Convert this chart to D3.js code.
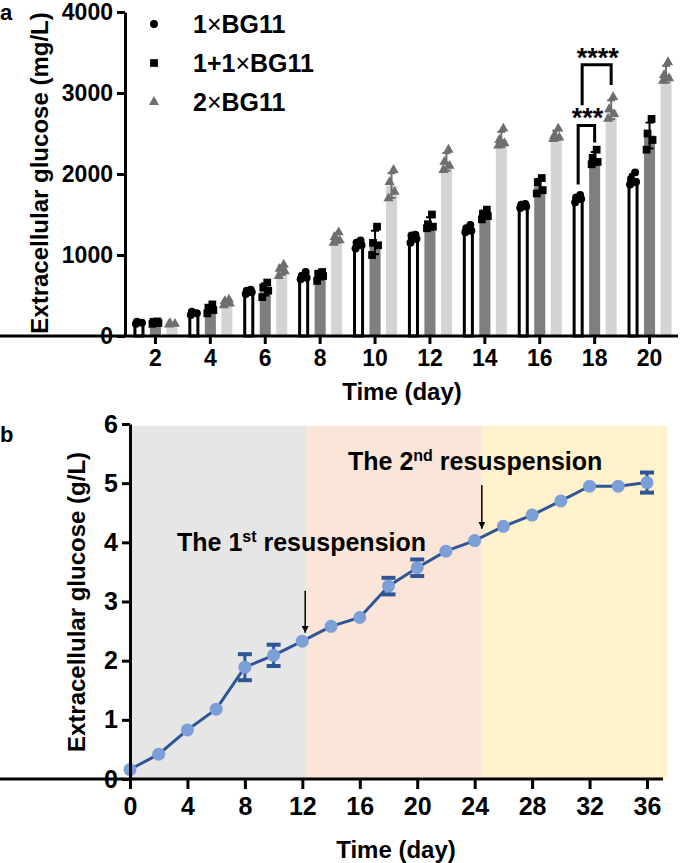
<!DOCTYPE html>
<html>
<head>
<meta charset="utf-8">
<script src="https://cdn.jsdelivr.net/npm/d3@7"></script>
<style>
  body { margin: 0; background: #fff; }
  text { font-family: Arial, 'Liberation Sans', sans-serif; font-weight: bold; fill: #000; }
</style>
</head>
<body>
<div id="chart"></div>
<script>
// panel a data: replicate glucose values (mg/L) per day
const daysA = [2, 4, 6, 8, 10, 12, 14, 16, 18, 20]
const seriesA = ['1×BG11', '1+1×BG11', '2×BG11']
const reps1x = [
  [150, 165, 175], [260, 280, 300], [520, 540, 560, 570], [700, 720, 740, 790], [1080, 1120, 1150, 1180],
  [1150, 1200, 1240, 1250], [1280, 1300, 1330, 1370], [1580, 1600, 1620, 1630], [1650, 1690, 1710, 1740], [1870, 1900, 1940, 2020]
]
const reps11x = [
  [150, 160, 175, 180], [280, 320, 350, 390], [480, 560, 600, 660], [680, 740, 770, 790], [1000, 1120, 1150, 1350],
  [1330, 1350, 1380, 1500], [1440, 1480, 1510, 1560], [1760, 1800, 1900, 1950], [2120, 2150, 2200, 2300], [2300, 2420, 2500, 2680]
]
const reps2x = [
  [140, 150, 160], [380, 400, 430, 450], [740, 800, 830, 880], [1150, 1180, 1220, 1280], [1700, 1780, 1900, 2050],
  [2050, 2100, 2150, 2300], [2350, 2380, 2420, 2560], [2430, 2450, 2470, 2560], [2680, 2740, 2800, 2950], [3150, 3180, 3220, 3380]
]
const yTicksA = [0, 1000, 2000, 3000, 4000]

// panel b data: glucose (g/L) over time
const timeB = [0, 2, 4, 6, 8, 10, 12, 14, 16, 18, 20, 22, 24, 26, 28, 30, 32, 34, 36]
const glucoseB = [0.16, 0.42, 0.83, 1.18, 1.89, 2.09, 2.33, 2.58, 2.73, 3.26, 3.57, 3.85, 4.03, 4.27, 4.46, 4.7, 4.95, 4.95, 5.01]
const errB = [0, 0, 0, 0, 0.22, 0.18, 0, 0, 0, 0.14, 0.14, 0, 0, 0, 0, 0, 0, 0, 0.17]
const yTicksB = [0, 1, 2, 3, 4, 5, 6]
const xTicksB = [0, 4, 8, 12, 16, 20, 24, 28, 32, 36]
const phaseStart = [0, 12.25, 24.5]
const phaseEnd = [12.25, 24.5, 37.4]
const phaseColors = ['#e6e6e6', '#fbe5d8', '#fff2cc']

const svg = d3.select('#chart').append('svg').attr('width', 685).attr('height', 863)

function drawPanelA() {
  const g = svg.append('g')
  const x0 = d3.scaleBand().domain(daysA).range([128, 677])
  const x1 = d3.scaleBand().domain(seriesA).range([2.7, 52.2]).paddingInner(0.33).paddingOuter(0.165)
  const y = d3.scaleLinear().domain([0, 4000]).range([336, 12])

  const repsAll = [reps1x, reps11x, reps2x]
  const fills = ['#ffffff', '#7f7f7f', '#d4d4d4']
  const markColors = ['#000', '#000', '#6e6e6e']
  const jitter = [-3, 3, -2, 2]

  repsAll.forEach((reps, si) => {
    const s = seriesA[si]
    const data = reps.map((r, i) => ({ day: daysA[i], reps: r, mean: d3.mean(r), sd: d3.deviation(r) }))
    const cx = d => x0(d.day) + x1(s) + x1.bandwidth() / 2

    g.selectAll('.bar' + si).data(data).join('rect')
      .attr('x', d => x0(d.day) + x1(s) + (si === 0 ? 1.5 : 0))
      .attr('width', x1.bandwidth() - (si === 0 ? 3 : 0))
      .attr('y', d => y(d.mean))
      .attr('height', d => y(0) - y(d.mean))
      .attr('fill', fills[si])
      .attr('stroke', si === 0 ? '#000' : 'none')
      .attr('stroke-width', 3)

    const eb = g.selectAll('.eb' + si).data(data).join('g')
    eb.append('line')
      .attr('x1', cx).attr('x2', cx)
      .attr('y1', d => y(d.mean - d.sd)).attr('y2', d => y(d.mean + d.sd))
      .attr('stroke', markColors[si]).attr('stroke-width', 2)
    ;[1, -1].forEach(sgn => {
      eb.append('line')
        .attr('x1', d => cx(d) - 4).attr('x2', d => cx(d) + 4)
        .attr('y1', d => y(d.mean + sgn * d.sd)).attr('y2', d => y(d.mean + sgn * d.sd))
        .attr('stroke', markColors[si]).attr('stroke-width', 2)
    })

    const pts = data.flatMap(d => d.reps.map((v, k) => ({ x: cx(d) + jitter[k], v })))
    const sym = [d3.symbolCircle, d3.symbolSquare, d3.symbolTriangle][si]
    const size = [50, 60, 45][si]
    g.selectAll('.pt' + si).data(pts).join('path')
      .attr('transform', d => `translate(${d.x},${y(d.v)})`)
      .attr('d', d3.symbol().type(sym).size(size))
      .attr('fill', markColors[si])
  })

  // axes
  const yAxis = d3.axisLeft(y).tickValues(yTicksA).tickSize(8).tickPadding(4).tickSizeOuter(0).tickFormat(d3.format('d'))
  const ya = g.append('g').attr('transform', 'translate(125,0)').call(yAxis)
  const xAxis = d3.axisBottom(x0).tickSize(8).tickPadding(6).tickSizeOuter(0)
  const xa = g.append('g').attr('transform', 'translate(0,336)').call(xAxis)
  xa.select('.domain').attr('d', 'M-3,0H678')
  ;[ya, xa].forEach(a => {
    a.selectAll('path, line').attr('stroke', '#000').attr('stroke-width', 3)
    a.selectAll('text').attr('font-size', 23).attr('fill', '#000')
  })

  g.append('text').attr('x', 402).attr('y', 400).attr('text-anchor', 'middle').attr('font-size', 24).text('Time (day)')
  g.append('text').attr('transform', 'translate(48,173) rotate(-90)').attr('text-anchor', 'middle')
    .attr('font-size', 24).text('Extracellular glucose (mg/L)')
  g.append('text').attr('x', 0).attr('y', 20).attr('font-size', 22).text('a')

  // legend
  const legY = [24, 63, 102]
  seriesA.forEach((s, i) => {
    const sym = [d3.symbolCircle, d3.symbolSquare, d3.symbolTriangle][i]
    g.append('path').attr('transform', `translate(154,${legY[i]})`)
      .attr('d', d3.symbol().type(sym).size([50, 60, 45][i]))
      .attr('fill', markColors[i])
    const parts = s.split('×')
    const t = g.append('text').attr('x', 193).attr('y', legY[i]).attr('dy', '0.36em').attr('font-size', 25)
    t.append('tspan').text(parts[0])
    t.append('tspan').attr('font-weight', 'normal').text('×')
    t.append('tspan').text(parts[1])
  })

  // significance brackets at day 18
  const c = k => x0(18) + x1(seriesA[k]) + x1.bandwidth() / 2
  const bracket = (xa1, xa2, top, b1, b2, label) => {
    g.append('path')
      .attr('d', `M${xa1},${y(b1)}V${y(top)}H${xa2}V${y(b2)}`)
      .attr('fill', 'none').attr('stroke', '#000').attr('stroke-width', 3)
    g.append('text').attr('x', (xa1 + xa2) / 2 + 1).attr('y', y(top) + 2)
      .attr('text-anchor', 'middle').attr('font-size', 27).text(label)
  }
  bracket(c(0), c(1), 2600, 1870, 2390, '***')
  bracket(c(0) + 4, c(2), 3350, 2850, 3100, '****')
}

function drawPanelB() {
  const g = svg.append('g')
  const x = d3.scaleLinear().domain([0, 36]).range([130, 647])
  const y = d3.scaleLinear().domain([0, 6]).range([779, 424])

  g.selectAll('.phase').data(phaseStart).join('rect')
    .attr('x', (d, i) => x(d))
    .attr('width', (d, i) => x(phaseEnd[i]) - x(d))
    .attr('y', y(5.97))
    .attr('height', y(0) - y(5.97))
    .attr('fill', (d, i) => phaseColors[i])

  const pts = timeB.map((t, i) => ({ t, v: glucoseB[i], e: errB[i] }))
  const blue = '#2f5597'
  g.append('path').datum(pts)
    .attr('d', d3.line().x(d => x(d.t)).y(d => y(d.v)))
    .attr('fill', 'none').attr('stroke', blue).attr('stroke-width', 3)

  const eb = g.selectAll('.ebb').data(pts.filter(d => d.e > 0)).join('g')
  eb.append('line').attr('x1', d => x(d.t)).attr('x2', d => x(d.t))
    .attr('y1', d => y(d.v - d.e)).attr('y2', d => y(d.v + d.e))
    .attr('stroke', blue).attr('stroke-width', 3)
  ;[1, -1].forEach(sgn => {
    eb.append('line').attr('x1', d => x(d.t) - 7).attr('x2', d => x(d.t) + 7)
      .attr('y1', d => y(d.v + sgn * d.e)).attr('y2', d => y(d.v + sgn * d.e))
      .attr('stroke', blue).attr('stroke-width', 4)
  })

  g.selectAll('.dot').data(pts).join('circle')
    .attr('cx', d => x(d.t)).attr('cy', d => y(d.v)).attr('r', 6.5)
    .attr('fill', '#7c9fd8')

  // axes
  const yAxis = d3.axisLeft(y).tickValues(yTicksB).tickSize(8).tickPadding(4).tickSizeOuter(0).tickFormat(d3.format('d'))
  const ya = g.append('g').attr('transform', 'translate(130,0)').call(yAxis)
  const xAxis = d3.axisBottom(x).tickValues(xTicksB).tickSize(10).tickPadding(8).tickSizeOuter(0)
  const xa = g.append('g').attr('transform', 'translate(0,779)').call(xAxis)
  xa.select('.domain').attr('d', 'M-3,0H663')
  ;[ya, xa].forEach(a => {
    a.selectAll('path, line').attr('stroke', '#000').attr('stroke-width', 3)
    a.selectAll('text').attr('font-size', 25).attr('fill', '#000')
  })

  g.append('text').attr('x', 396).attr('y', 858).attr('text-anchor', 'middle').attr('font-size', 24).text('Time (day)')
  g.append('text').attr('transform', 'translate(85,602) rotate(-90)').attr('text-anchor', 'middle')
    .attr('font-size', 24).text('Extracellular glucose (g/L)')
  g.append('text').attr('x', 0).attr('y', 442).attr('font-size', 22).text('b')

  // arrows + annotations
  const defs = svg.append('defs')
  defs.append('marker').attr('id', 'arr').attr('viewBox', '0 0 10 10').attr('refX', 10).attr('refY', 5)
    .attr('markerWidth', 7).attr('markerHeight', 7).attr('markerUnits', 'userSpaceOnUse').attr('orient', 'auto')
    .append('path').attr('d', 'M0,0L10,5L0,10Z').attr('fill', '#000')
  const arrows = [[12.2, 3.18, 2.47], [24.5, 4.97, 4.23]]
  arrows.forEach(a => {
    g.append('line').attr('x1', x(a[0])).attr('x2', x(a[0])).attr('y1', y(a[1])).attr('y2', y(a[2]))
      .attr('stroke', '#000').attr('stroke-width', 1.5).attr('marker-end', 'url(#arr)')
  })
  const notes = [[177, 551, '1', 'st'], [348, 470, '2', 'nd']]
  notes.forEach(n => {
    const t = g.append('text').attr('x', n[0]).attr('y', n[1]).attr('font-size', 25)
    t.append('tspan').text('The ' + n[2])
    t.append('tspan').attr('font-size', 16).attr('dy', -9).text(n[3])
    t.append('tspan').attr('dy', 9).text(' resuspension')
  })
}

drawPanelA()
drawPanelB()
</script>
</body>
</html>
